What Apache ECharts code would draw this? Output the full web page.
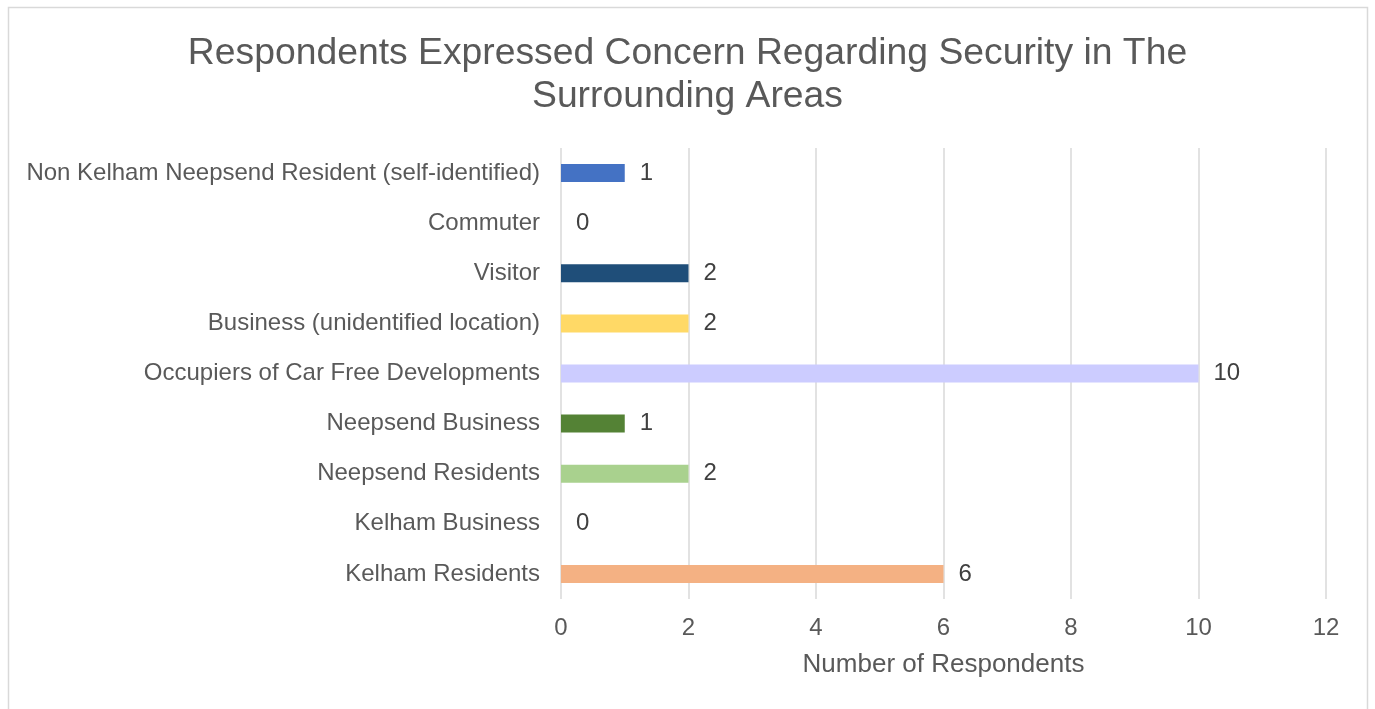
<!DOCTYPE html>
<html>
<head>
<meta charset="utf-8">
<title>Respondents Expressed Concern Regarding Security</title>
<script src="https://cdn.jsdelivr.net/npm/echarts@6/dist/echarts.min.js"></script>
<style>
  html, body { margin: 0; padding: 0; background: #fff; }
  #securityChart { width: 1375px; height: 709px; }
</style>
</head>
<body>
<div id="securityChart"></div>
<script>
// categories, top to bottom as in the chart
var categories = [
  "Non Kelham Neepsend Resident (self-identified)",
  "Commuter",
  "Visitor",
  "Business (unidentified location)",
  "Occupiers of Car Free Developments",
  "Neepsend Business",
  "Neepsend Residents",
  "Kelham Business",
  "Kelham Residents"
];
var respondents = [1, 0, 2, 2, 10, 1, 2, 0, 6];
var xTicks = [0, 2, 4, 6, 8, 10, 12];

// one colour per bar
var barColors = ["#4472C4", "#A5A5A5", "#1F4E79", "#FFD966", "#CCCCFF",
                 "#548235", "#A9D18E", "#ED7D31", "#F4B183"];

var chart = echarts.init(document.getElementById("securityChart"));
var font = "Liberation Sans, Arial, sans-serif";

var option = {
  backgroundColor: "#fff",
  animation: false,
  title: {
    text: "Respondents Expressed Concern Regarding Security in The\nSurrounding Areas",
    left: "center",
    top: 27,
    textStyle: {
      fontFamily: font,
      fontSize: 37.3,
      fontWeight: "normal",
      color: "#595959",
      lineHeight: 43,
      align: "center"
    }
  },
  graphic: [{
    type: "rect",
    shape: { x: 8.5, y: 7.5, width: 1359, height: 720 },
    style: { fill: "none", stroke: "#d9d9d9", lineWidth: 1.5 },
    silent: true
  }],
  grid: { left: 561, right: 49, top: 148, bottom: 110 },
  xAxis: {
    type: "value",
    min: xTicks[0],
    max: xTicks[xTicks.length - 1],
    interval: 2,
    name: "Number of Respondents",
    nameLocation: "middle",
    nameGap: 53,
    nameTextStyle: { fontFamily: font, fontSize: 26, color: "#595959" },
    axisLine: { show: false },
    axisTick: { show: false },
    axisLabel: { fontFamily: font, fontSize: 24, color: "#595959", margin: 17 },
    splitLine: { show: true, lineStyle: { color: "#d9d9d9", width: 1.5 } }
  },
  yAxis: {
    type: "category",
    inverse: true,
    data: categories,
    axisLine: { show: false },
    axisTick: { show: false },
    axisLabel: { fontFamily: font, fontSize: 24, color: "#595959", margin: 21 }
  },
  series: [{
    type: "bar",
    barWidth: 18,
    data: respondents.map(function (v, i) {
      return { value: v, itemStyle: { color: barColors[i] } };
    }),
    label: {
      show: true,
      position: "right",
      distance: 15,
      fontFamily: font,
      fontSize: 24,
      color: "#404040"
    }
  }]
};

window.onresize = chart.resize;
chart.setOption(option);
</script>
</body>
</html>
